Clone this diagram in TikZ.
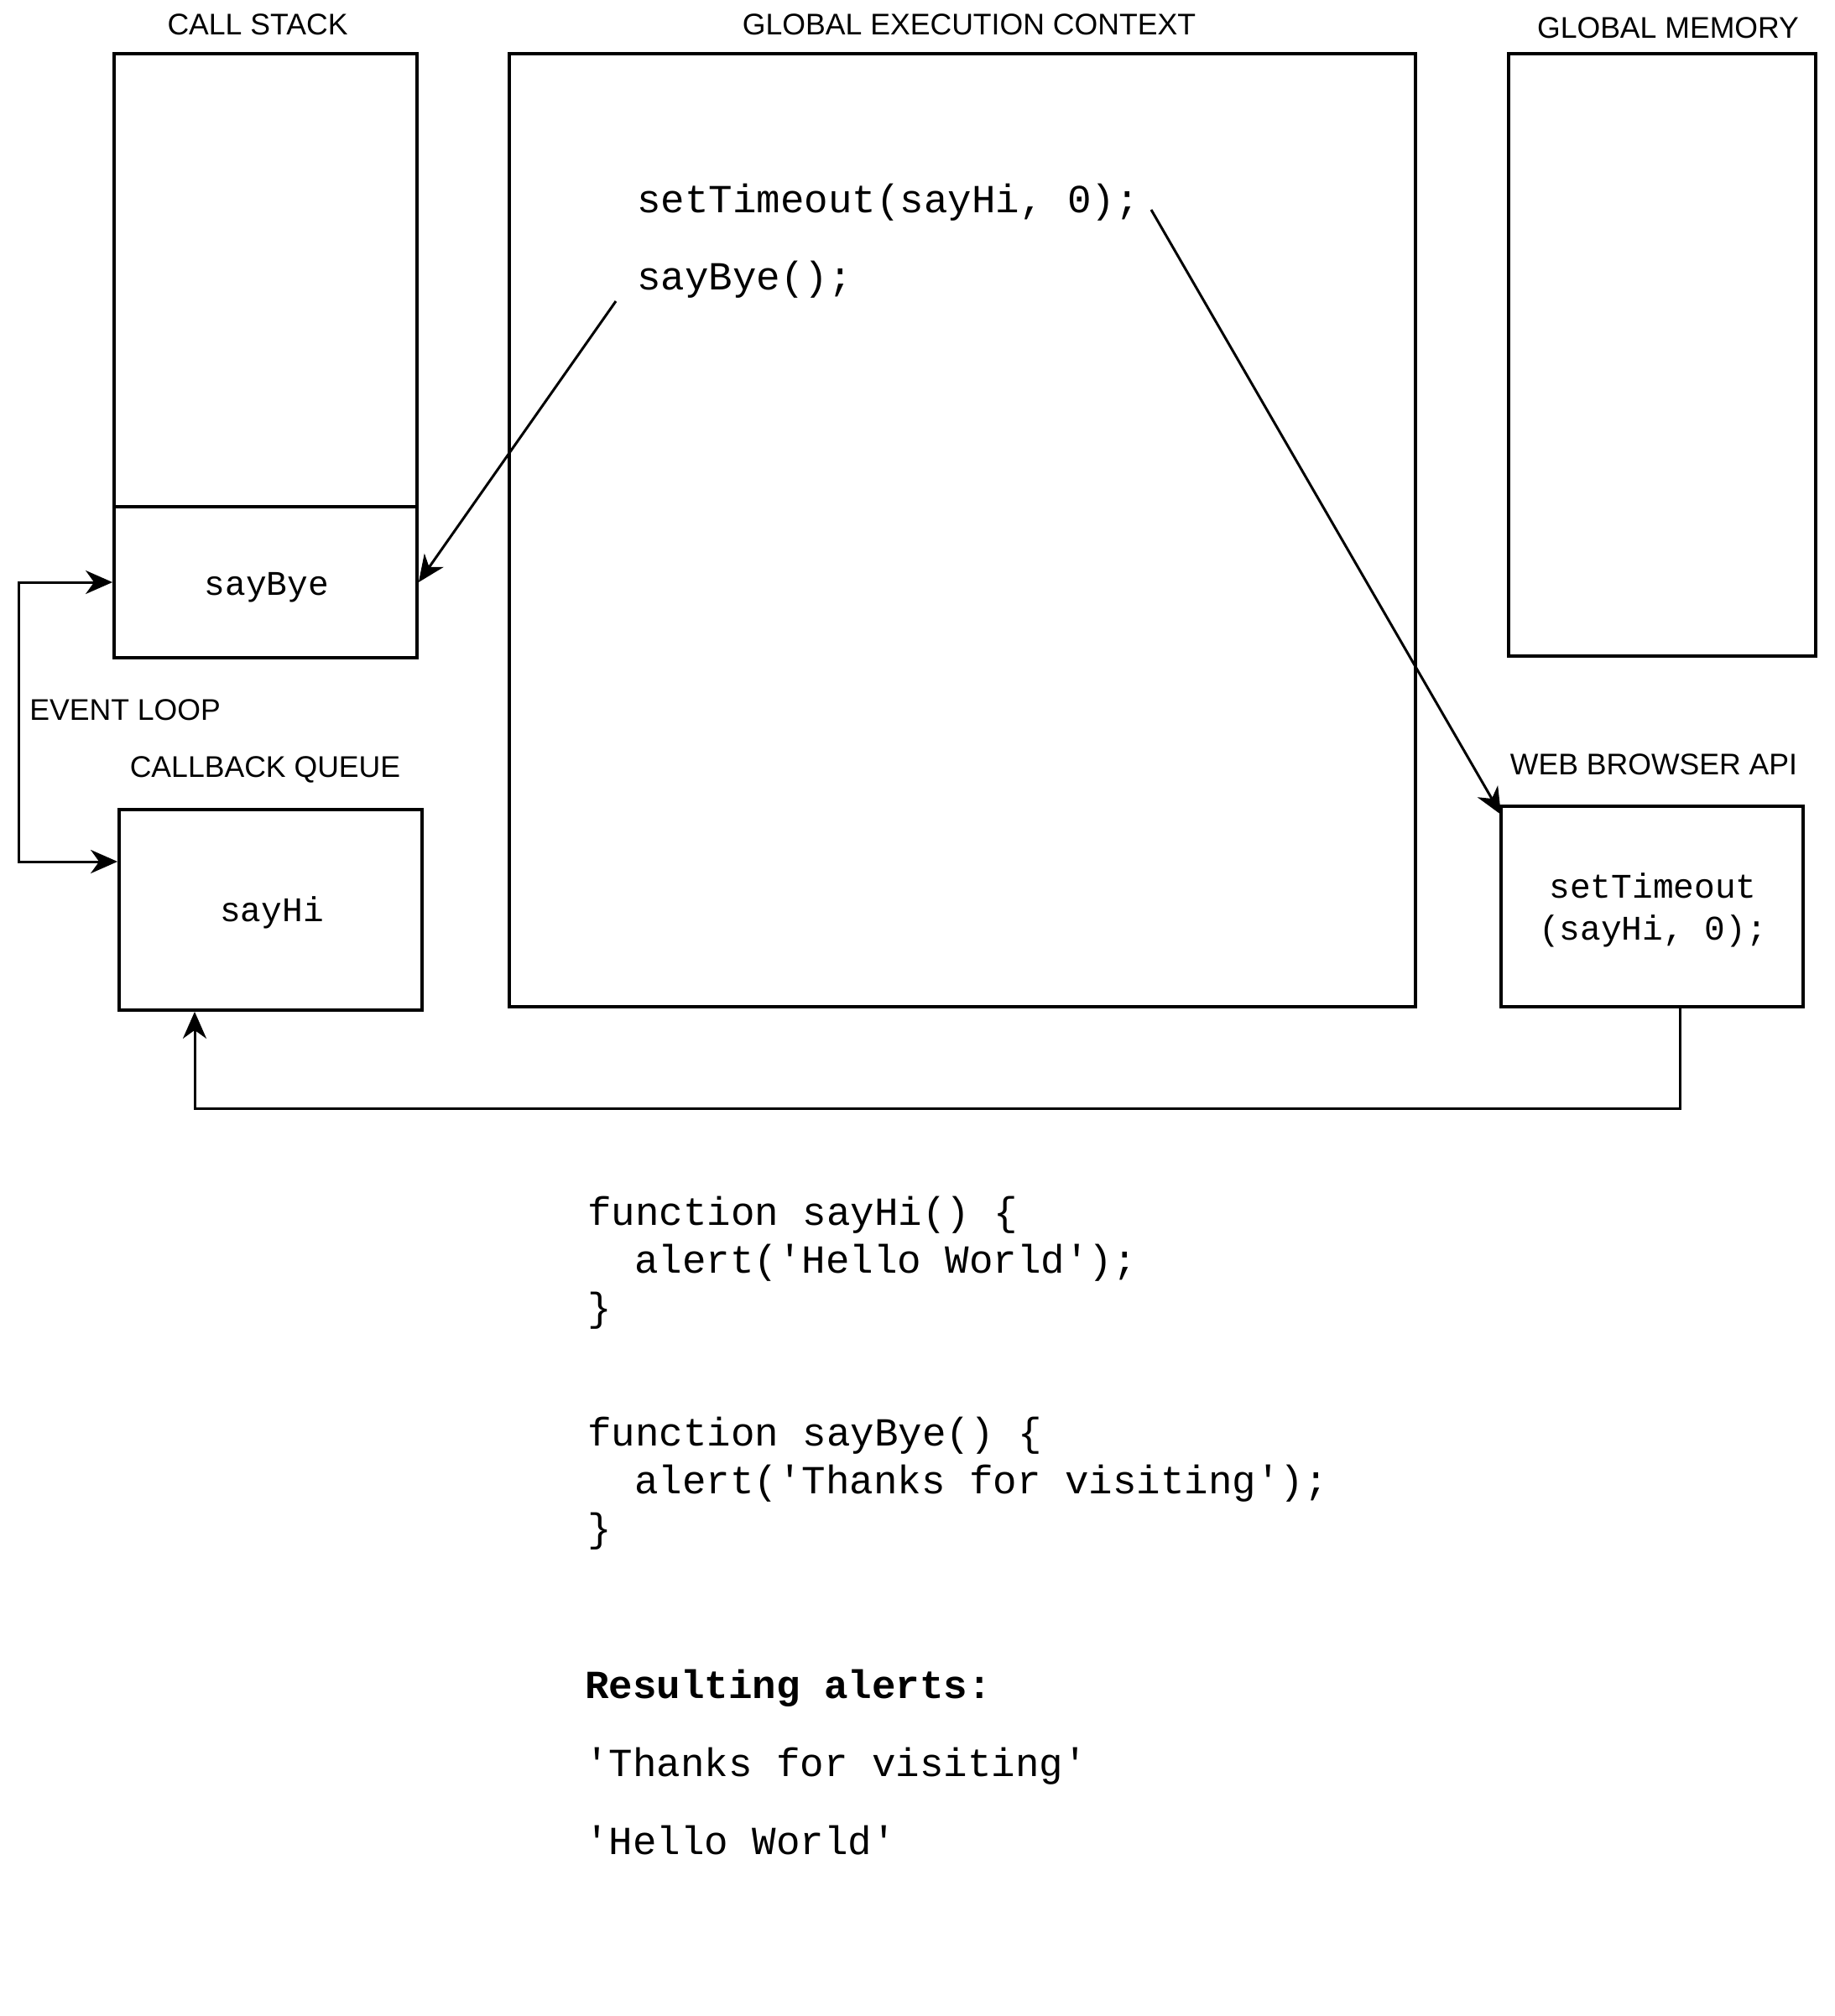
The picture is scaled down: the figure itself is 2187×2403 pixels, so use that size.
\documentclass[tikz,border=0pt]{standalone}
\usepackage{fontspec}
\setmainfont{Liberation Sans}
\setmonofont{Liberation Mono}
\usetikzlibrary{arrows.meta,fit}
\begin{document}
\begin{tikzpicture}[x=0.5pt,y=-0.5pt,
  box/.style={draw, line width=1.9pt, inner sep=0pt, fill=white},
  title/.style={font=\fontsize{17.8}{20}\selectfont, inner sep=0pt, anchor=base},
  code/.style={font=\ttfamily\fontsize{23.75}{28}\selectfont, inner sep=0pt, anchor=base west},
  boldcode/.style={code, font=\ttfamily\bfseries\fontsize{23.75}{28}\selectfont},
  cellcode/.style={font=\ttfamily\fontsize{20.6}{25}\selectfont, inner sep=0pt, anchor=base},
  conn/.style={line width=1.5pt},
  tip/.style={-{Stealth[length=16pt,width=14pt,inset=5pt]}},
  bothtips/.style={{Stealth[length=16pt,width=14pt,inset=5pt]}-{Stealth[length=16pt,width=14pt,inset=5pt]}},
]
\useasboundingbox (0,0) rectangle (2187,2403);

% titles
\node[title] (tcs) at (307,42) {CALL STACK};
\node[title] (tgec) at (1155,42) {GLOBAL EXECUTION CONTEXT};
\node[title] (tgm) at (1988,46) {GLOBAL MEMORY};
\node[title, anchor=base west] (tel) at (35,858) {EVENT LOOP};
\node[title] (tcq) at (316,926) {CALLBACK QUEUE};
\node[title] (twb) at (1971,923) {WEB BROWSER API};

% boxes
\node[box, fit={(136,64)(497,784)}] (cs) {};
\node[box, fit={(136,604)(497,784)}] (csb) {};
\node[box, fit={(607,64)(1687,1200)}] (gec) {};
\node[box, fit={(1798,64)(2164,782)}] (gm) {};
\node[box, fit={(142,965)(503,1204)}] (cq) {};
\node[box, fit={(1789,961)(2149,1200)}] (wb) {};

% texts in the cells
\node[cellcode] (csbt) at (318,709) {sayBye};
\node[cellcode] (cqt) at (324,1098) {sayHi};
\node[cellcode] (wbt1) at (1970,1070) {setTimeout};
\node[cellcode] (wbt2) at (1970,1120) {(sayHi, 0);};

% code inside the global execution context
\node[code] (l1) at (759,253) {setTimeout(sayHi, 0);};
\node[code] (l2) at (759,345) {sayBye();};

% connectors
\coordinate (st) at (1372,250);
\coordinate (wbin) at (1789,971);
\draw[conn, tip] (st) -- (wbin);

\coordinate (sb) at (734,359);
\draw[conn, tip] (sb) -- (csb.east);

\coordinate (elt) at (22,694);
\coordinate (elb) at (22,1027);
\draw[conn, bothtips] (csb.west) -- (elt) -- (elb) -- (cq.west |- elb);

\coordinate (b1) at (2002,1321);
\coordinate (b2) at (232,1321);
\draw[conn, tip] (wb.south -| b1) -- (b1) -- (b2) -- (cq.south -| b2);

% source code below
\node[code] (c1) at (700,1460) {function sayHi() \{};
\node[code] (c2) at (756,1517) {alert('Hello World');};
\node[code] (c3) at (700,1574) {\}};
\node[code] (c4) at (700,1723) {function sayBye() \{};
\node[code] (c5) at (756,1780) {alert('Thanks for visiting');};
\node[code] (c6) at (700,1837) {\}};

\node[boldcode] (r0) at (697,2024) {Resulting alerts:};
\node[code] (r1) at (697,2117) {'Thanks for visiting'};
\node[code] (r2) at (697,2210) {'Hello World'};
\end{tikzpicture}
\end{document}
